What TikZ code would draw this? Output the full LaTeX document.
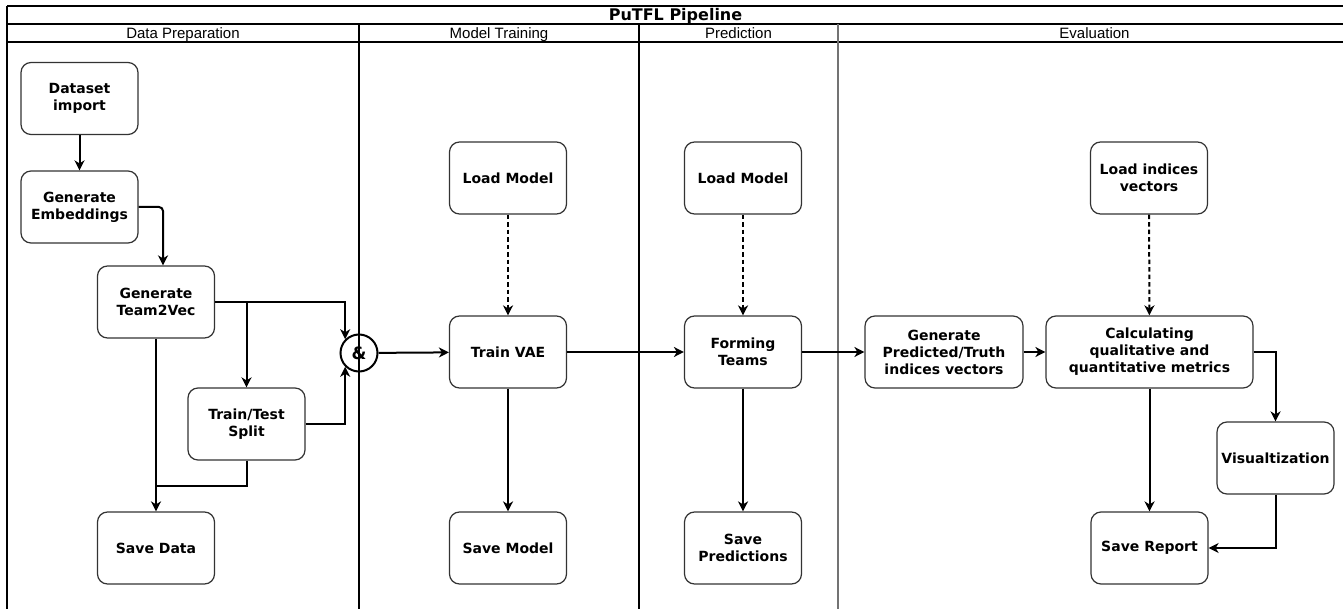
\documentclass[tikz,border=0pt]{standalone}
\usepackage{fontspec}
\setmainfont{DejaVu Sans}
\newfontfamily\arialfont{Liberation Sans}
\usetikzlibrary{arrows.meta}

\begin{document}
\begin{tikzpicture}[x=1pt,y=-1pt]
\tikzset{etape/.style={draw=black!80, line width=1.2pt, rounded corners=10pt, minimum width=117pt, minimum height=72pt, inner sep=0pt, align=center, font=\bfseries\fontsize{14}{17}\selectfont}}
\tikzset{fleche/.style={-{Stealth[length=10pt,width=10pt,inset=3pt]}, line width=2pt}}
\tikzset{pointille/.style={fleche, dash pattern=on 4.5pt off 3pt}}
\tikzset{entete/.style={font=\arialfont\fontsize{15}{17}\selectfont, inner sep=0pt, anchor=base}}
\useasboundingbox (0,0) rectangle (1343,609);
% couloirs
\draw[line width=1.4pt] (7,6) -- (1346,6);
\draw[line width=1.4pt] (7,24) -- (1346,24);
\draw[line width=1.4pt] (7,42) -- (1346,42);
\draw[line width=1.1pt] (7,6) -- (7,612);
\draw[line width=1.1pt] (359,24) -- (359,612);
\draw[line width=1.1pt] (639,24) -- (639,612);
\draw[black!55, line width=1.8pt] (838,24) -- (838,612);
\node[font=\bfseries\fontsize{16}{17}\selectfont, inner sep=0pt, anchor=base] (titre) at (675.5,20.5) {PuTFL Pipeline};
\node[entete] (h1) at (183,38.5) {Data Preparation};
\node[entete] (h2) at (499,38.5) {Model Training};
\node[entete] (h3) at (738.5,38.5) {Prediction};
\node[entete] (h4) at (1094.5,38.5) {Evaluation};
% preparation
\node[etape] (import) at (79.5,98.5) {Dataset\\import};
\node[etape] (embed) at (79.5,207) {Generate\\Embeddings};
\node[etape] (t2v) at (156,302) {Generate\\Team2Vec};
\node[etape] (split) at (246.5,424) {Train/Test\\Split};
\node[etape] (savedata) at (156,548) {Save Data};
\node[circle, draw, line width=2pt, minimum size=37pt, inner sep=0pt, font=\bfseries\fontsize{17}{17}\selectfont] (et) at (359,353) {\&};
\coordinate (jonction) at (156,486);
% entrainement
\node[etape] (load1) at (508,178) {Load Model};
\node[etape] (vae) at (508,352) {Train VAE};
\node[etape] (savemodel) at (508,548) {Save Model};
% prediction
\node[etape] (load2) at (743,178) {Load Model};
\node[etape] (teams) at (743,352) {Forming\\Teams};
\node[etape] (savepred) at (743,548) {Save\\Predictions};
% evaluation
\node[etape, minimum width=158pt] (vecs) at (944,352) {Generate\\Predicted/Truth\\indices vectors};
\node[etape, minimum width=207pt] (metrics) at (1149.5,352) {Calculating\\qualitative and\\quantitative metrics};
\node[etape] (loadidx) at (1149,178) {Load indices\\vectors};
\node[etape] (visu) at (1275.5,458) {Visualtization};
\node[etape] (report) at (1149.5,548) {Save Report};
% fleches
\draw[fleche] (import) -- (embed);
\draw[fleche, rounded corners=4pt] (embed.east) -| ([xshift=7pt]t2v.north);
\draw[fleche] (t2v.east) -| (et.north west);
\draw[fleche] (t2v.east -| split.north) -- (split.north);
\draw[fleche] (split.east) -| (et.south west);
\draw[fleche] (t2v) -- (savedata);
\draw[line width=2pt] (split.south) |- (jonction);
\draw[fleche] (et) -- (vae);
\draw[pointille] (load1) -- (vae);
\draw[fleche] (vae) -- (savemodel);
\draw[fleche] (vae) -- (teams);
\draw[pointille] (load2) -- (teams);
\draw[fleche] (teams) -- (savepred);
\draw[fleche] (teams) -- (vecs);
\draw[fleche] (vecs) -- (metrics);
\draw[pointille] (loadidx) -- (metrics);
\draw[fleche] (metrics) -- (report);
\draw[fleche] (metrics.east) -| (visu.north);
\draw[fleche] (visu.south) |- (report.east);
\end{tikzpicture}
\end{document}
